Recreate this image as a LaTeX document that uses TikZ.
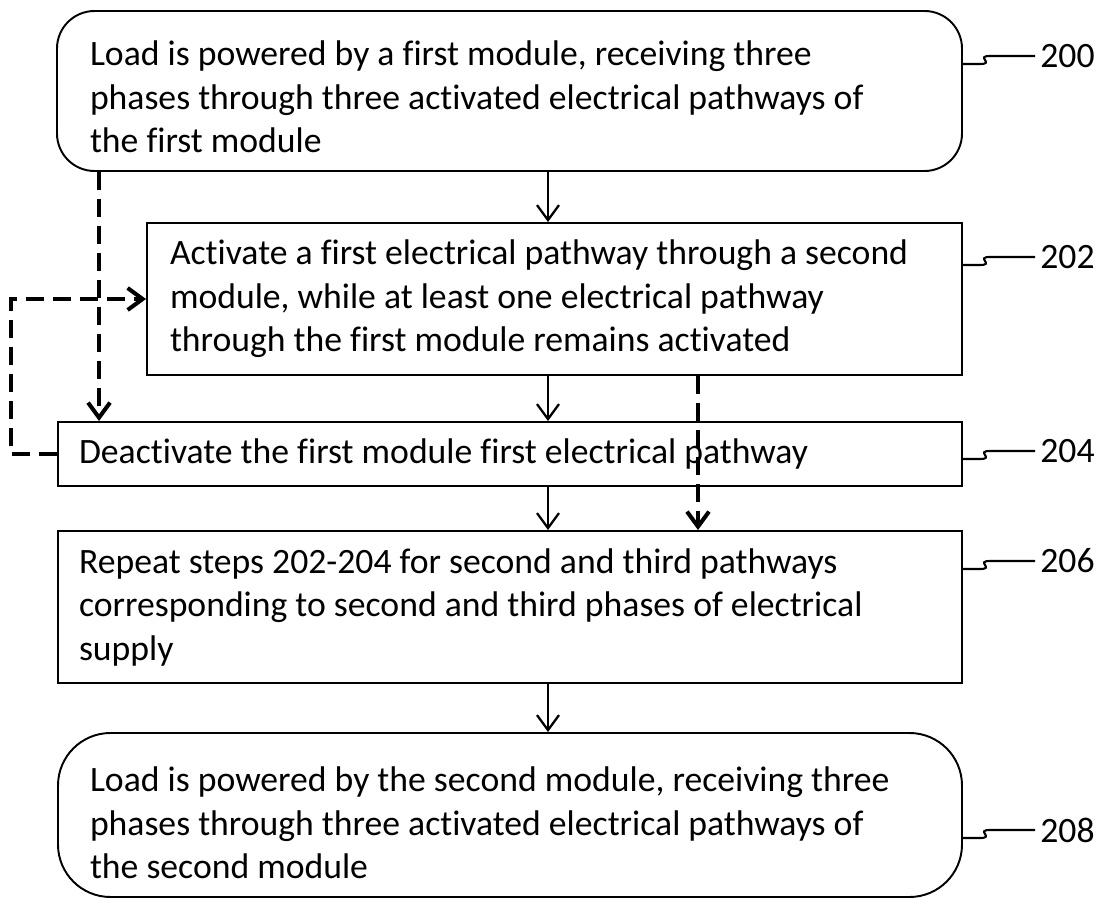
\documentclass[tikz,border=0pt]{standalone}
\usepackage{fontspec}
\setmainfont{Carlito}[Ligatures=NoCommon]
\usetikzlibrary{arrows.meta}
\newcommand{\topgap}[1]{\rule{0pt}{#1}}
\tikzset{
	boxfont/.style={font=\fontsize{20.3}{24.75}\selectfont},
	flowtip/.style={-{Straight Barb[length=0.3cm,width=0.44cm]}},
	dashflow/.style={draw=black,line width=2.3pt,dash pattern=on 0.36cm off 0.18cm,flowtip},
}
\begin{document}
\begin{tikzpicture}
	\useasboundingbox (0,0) rectangle (22.1,-17.96);
	\coordinate (ax) at (10.96,0);
	
	\begin{scope}[every node/.style={draw,line width=1.1pt,align=left,boxfont,execute at begin node={\spaceskip=0pt\xspaceskip=0pt}}]
		\node[rounded corners=0.75cm,inner xsep=0.66cm,text width=16.78cm,minimum height=3.2cm] (b200) at (10.19,-1.82) {\topgap{0.74cm}Load is powered by a first module, receiving three\\phases through three activated electrical pathways of\\the first module};
		\node[inner xsep=0.46cm,text width=15.38cm,minimum height=3.04cm] (b202) at (11.09,-5.98) {Activate a first electrical pathway through a second\\module, while at least one electrical pathway\\through the first module remains activated};
		\node[inner xsep=0.42cm,text width=17.24cm,minimum height=1.28cm] (b204) at (10.2,-9.08) {Deactivate the first module first electrical pathway};
		\node[inner xsep=0.42cm,text width=17.24cm,minimum height=3.04cm] (b206) at (10.2,-12.14) {Repeat steps 202-204 for second and third pathways\\corresponding to second and third phases of electrical\\supply};
		\node[rounded corners=1.05cm,inner xsep=0.64cm,text width=16.8cm,minimum height=3.28cm] (b208) at (10.2,-16.3) {\topgap{0.82cm}Load is powered by the second module, receiving three\\phases through three activated electrical pathways of\\the second module};
	\end{scope}
	
	\begin{scope}[every node/.style={anchor=west,inner sep=0.1cm,boxfont}]
		\node (l200) at (20.7,-1.12) {200};
		\node (l202) at (20.7,-5.14) {202};
		\node (l204) at (20.7,-9.02) {204};
		\node (l206) at (20.7,-11.22) {206};
		\node (l208) at (20.7,-16.6) {208};
	\end{scope}
	
	\foreach \n in {200,202,204,206,208}
		\draw[line width=1.2pt] (l\n.west) -- ++(-0.9,0) to[out=180,in=0,looseness=3] ++(-0.2,-0.16) coordinate (s\n) -- (s\n -| b\n.east);
	
	\begin{scope}[every edge/.style={draw=black,line width=1.3pt,flowtip}]
		\path (b200.south -| ax) edge (b202.north -| ax);
		\path (b202.south -| ax) edge (b204.north -| ax);
		\path (b204.south -| ax) edge (b206.north -| ax);
		\path (b206.south -| ax) edge (b208.north -| ax);
	\end{scope}
	
	% dashed paths
	\draw[dashflow] ([xshift=0.86cm]b200.south west) -- ([xshift=0.86cm]b200.south west |- b204.north);
	\draw[dashflow] ([xshift=2.87cm]b202.south) -- ([xshift=2.87cm]b202.south |- b206.north);
	\draw[dashflow] (b204.west) -- ++(-0.92,0) |- (b202.west);
\end{tikzpicture}
\end{document}
